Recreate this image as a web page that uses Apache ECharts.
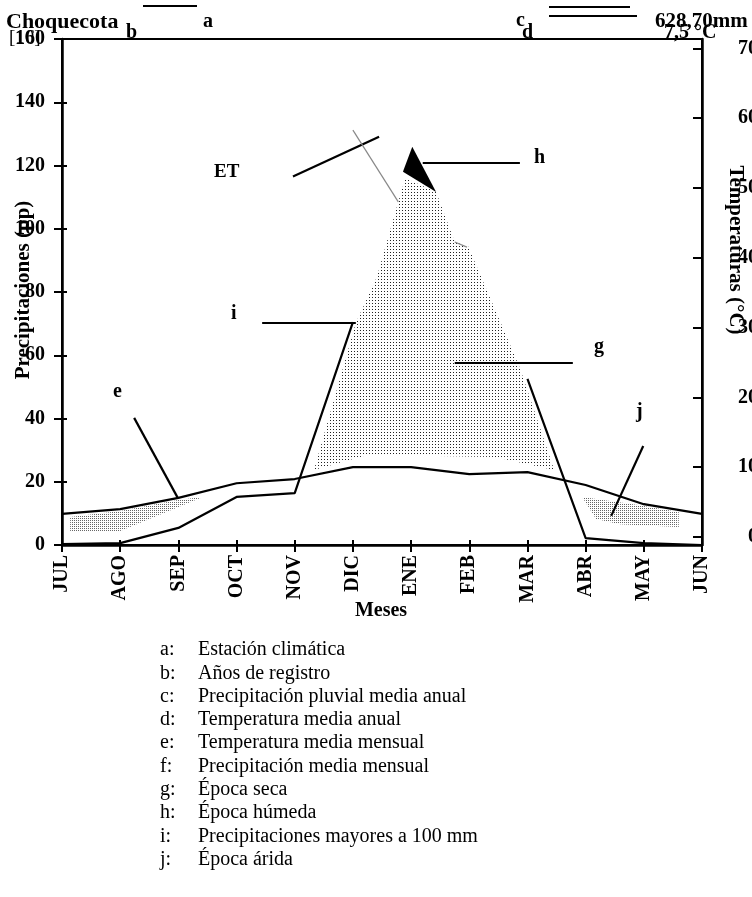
<!DOCTYPE html>
<html><head><meta charset="utf-8">
<script src="https://cdn.jsdelivr.net/npm/echarts@6/dist/echarts.min.js"></script>
<style>html,body{margin:0;padding:0;background:#fff}#c{width:752px;height:897px}</style>
</head><body><div id="c"></div>
<script>
// ---- data ----
const months = ['JUL','AGO','SEP','OCT','NOV','DIC','ENE','FEB','MAR','ABR','MAY','JUN'];
// precipitation (mm, left axis)
const precip = [0.3, 0.6, 5.4, 15.2, 16.4, 70.5, 116, 94.5, 52.5, 2.2, 0.6, 0];
// mean monthly temperature (°C, right axis)
const temp = [3.3, 4.0, 5.6, 7.7, 8.3, 10.0, 10.0, 9.0, 9.3, 7.45, 4.7, 3.3];
const precipTicks = [0, 20, 40, 60, 80, 100, 120, 140, 160];
const tempTicks = [0, 10, 20, 30, 40, 50, 60, 70];
// shaded areas, [month index, mm]
const humidArea = [[4.33,23.7],[5.05,70.2],[5.41,84.7],[5.78,108.5],[5.9,116.0],[6.43,111.6],[6.75,95.8],[6.98,94.5],[7.87,56.0],[8.46,23.7],[7.44,27.8],[5.26,28.5]];
const dryAreaA = [[0.14,8.85],[1.0,10.75],[1.99,14.2],[2.42,15.2],[1.0,4.4],[0.14,4.4]];
const dryAreaB = [[8.94,15.2],[9.93,12.6],[10.6,10.4],[10.6,5.7],[9.59,6.6],[9.18,8.2]];
const wetPeak = [[6.02,125.9],[5.86,118.0],[6.43,111.6]];
// leader lines [x1,y1,x2,y2] in [month index, mm]
const leaders = [
  [1.24,40.2,1.99,14.9],   // e
  [9.99,31.3,9.44,9.2],    // j
  [6.75,57.6,8.78,57.6],   // g
  [3.44,70.3,5.05,70.3],   // i
  [6.2,120.9,7.87,120.9],  // h
  [3.97,116.5,5.45,129.1]  // ET
];
const greyLines = [[5.0,131.2,5.78,108.5],[6.75,95.8,6.96,94.2]];
const legendItems = [
  ['a:','Estación climática'],['b:','Años de registro'],['c:','Precipitación pluvial media anual'],
  ['d:','Temperatura media anual'],['e:','Temperatura media mensual'],['f:','Precipitación media mensual'],
  ['g:','Época seca'],['h:','Época húmeda'],['i:','Precipitaciones mayores a 100 mm'],['j:','Época árida']
];

const FF = '"Liberation Serif", "Times New Roman", serif';
function dots(size, color){
  const c = document.createElement('canvas'); c.width = size; c.height = size;
  const g = c.getContext('2d'); g.fillStyle = color; g.fillRect(0,0,1,1);
  return {image: c, repeat: 'repeat'};
}
const humidFill = dots(3, '#222');
const dryFill = dots(2, '#666');

function polySeries(pts, fill){
  return {type:'custom', xAxisIndex:0, yAxisIndex:0, silent:true, z:1, data:[0],
    renderItem:(p, api)=>({type:'polygon', shape:{points: pts.map(q=>api.coord(q))}, style:{fill: fill, stroke:null}})};
}

const chart = echarts.init(document.getElementById('c'), null, {renderer:'canvas'});
const graphic = [];
function txt(x,y,t,size,bold,extra){
  const st = Object.assign({text:t, fill:'#000', font:(bold?'bold ':'')+size+'px '+FF, textVerticalAlign:'middle'}, extra||{});
  graphic.push({type:'text', x:x, y:y, silent:true, style:st});
}
function rtxt(x,y,t,size,rot){
  graphic.push({type:'text', x:x, y:y, rotation:rot, silent:true,
    style:{text:t, fill:'#000', font:'bold '+size+'px '+FF, textAlign:'center', textVerticalAlign:'middle'}});
}
function ln(x1,y1,x2,y2,w){ graphic.push({type:'line', silent:true, shape:{x1,y1,x2,y2}, style:{stroke:'#000', lineWidth:w||2}}); }
// header
txt(6,22,'Choquecota',22,true);
txt(9,38,'[10]',19,false);
txt(126,33,'b',20,true);
txt(203,22,'a',20,true);
ln(143,6,197,6,2);
txt(516,21,'c',20,true);
txt(522,33,'d',20,true);
ln(549,7,630,7,2); ln(549,16,637,16,2);
txt(655,22,'628,70mm',21,true);
txt(664,33,'7,5 °C',20,true);
// annotation letters
txt(214,172,'ET',19,true);
txt(534,158,'h',20,true);
txt(231,314,'i',20,true);
txt(594,347,'g',20,true);
txt(113,392,'e',20,true);
txt(636,412,'j',20,true);
// axis names
rtxt(24,290,'Precipitaciones (pp)',21,Math.PI/2);
rtxt(735,250,'Temperaturas (°C)',21,-Math.PI/2);
rtxt(381,611,'Meses',20,0);
// legend
legendItems.forEach((it,k)=>{ const y = 650 + k*23.3; txt(160,y,it[0],20,false); txt(198,y,it[1],20,false); });

const axisCommon = {axisLine:{show:true, onZero:false, lineStyle:{color:'#000', width:2.5}}, splitLine:{show:false}};
const hiddenAxis = {axisLine:{show:false}, splitLine:{show:false}, axisLabel:{show:false}};
chart.setOption({
  animation:false,
  backgroundColor:'#fff',
  grid:{left:62, right:50, top:39, bottom:352, show:true, borderColor:'#000', borderWidth:2, containLabel:false, outerBoundsMode:'none'},
  xAxis:[
    Object.assign({type:'value', min:0, max:11, interval:1,
      axisTick:{show:true, length:7, lineStyle:{color:'#000', width:2}},
      axisLabel:{rotate:90, margin:10, color:'#000', fontFamily:FF, fontWeight:'bold', fontSize:20, showMinLabel:true, showMaxLabel:true, formatter:v=>months[v]}}, axisCommon),
    Object.assign({type:'value', min:0, max:11, interval:1, position:'bottom',
      axisTick:{show:true, inside:true, length:5, lineStyle:{color:'#000', width:2}}}, hiddenAxis)
  ],
  yAxis:[
    Object.assign({type:'value', min:0, max:160, interval:20, position:'left',
      axisTick:{show:true, length:8, lineStyle:{color:'#000', width:2}},
      axisLabel:{margin:17, color:'#000', fontFamily:FF, fontWeight:'bold', fontSize:20, customValues:precipTicks}}, axisCommon),
    Object.assign({type:'value', min:-1.15, max:71.35, position:'right',
      axisTick:{show:true, inside:true, length:9, lineStyle:{color:'#000', width:2}, customValues:tempTicks},
      axisLabel:{margin:56, align:'right', color:'#000', fontFamily:FF, fontWeight:'bold', fontSize:20, customValues:tempTicks}}, axisCommon),
    Object.assign({type:'value', min:0, max:160, interval:20, position:'left',
      axisTick:{show:true, inside:true, length:5, lineStyle:{color:'#000', width:2}}}, hiddenAxis)
  ],
  graphic: graphic,
  series:[
    polySeries(humidArea, humidFill),
    polySeries(dryAreaA, dryFill),
    polySeries(dryAreaB, dryFill),
    polySeries(wetPeak, '#000'),
    {type:'line', yAxisIndex:1, data: temp.map((v,i)=>[i,v]), symbol:'none', lineStyle:{color:'#000', width:2.2}, z:3},
    {type:'line', yAxisIndex:0, data: precip.slice(0,6).map((v,i)=>[i,v]), symbol:'none', lineStyle:{color:'#000', width:2.2}, z:3,
      markLine:{silent:true, symbol:['none','none'], label:{show:false}, animation:false,
        data: leaders.map(l=>[{coord:[l[0],l[1]], lineStyle:{color:'#000', width:2.2, type:'solid'}},{coord:[l[2],l[3]]}])
          .concat(greyLines.map(l=>[{coord:[l[0],l[1]], lineStyle:{color:'#888', width:1.2, type:'solid'}},{coord:[l[2],l[3]]}]))}},
    {type:'line', yAxisIndex:0, data: precip.slice(8).map((v,i)=>[i+8,v]), symbol:'none', lineStyle:{color:'#000', width:2.2}, z:3}
  ]
});
</script></body></html>
